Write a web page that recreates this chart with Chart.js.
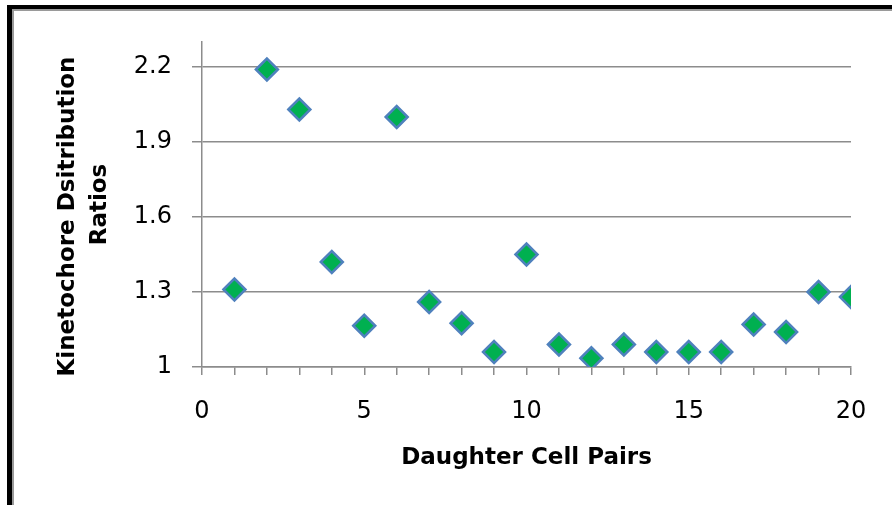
<!DOCTYPE html>
<html>
<head>
<meta charset="utf-8">
<script src="https://cdn.jsdelivr.net/npm/chart.js@4/dist/chart.umd.min.js"></script>
<style>
  html, body { margin: 0; padding: 0; background: #fff; overflow: hidden; }
  #frame { position: absolute; left: 7px; top: 5px; width: 900px; height: 520px;
           border-top: 4px solid #000; border-left: 5px solid #000; }
  #frame div { width: 100%; height: 100%; border-top: 2px solid #9a9a9a; border-left: 2px solid #9a9a9a; }
  #myChart { position: absolute; left: 0; top: 0; }
</style>
</head>
<body>
<div id="frame"><div></div></div>
<canvas id="myChart" width="892" height="505"></canvas>
<script>
// daughter cell pair number
const pairs = [1, 2, 3, 4, 5, 6, 7, 8, 9, 10, 11, 12, 13, 14, 15, 16, 17, 18, 19, 20];
// kinetochore distribution ratio for each pair
const ratios = [1.31, 2.19, 2.03, 1.42, 1.165, 2.0, 1.26, 1.175, 1.06, 1.45,
                1.09, 1.035, 1.09, 1.06, 1.06, 1.06, 1.17, 1.14, 1.30, 1.28];
const xLabels = [0, 5, 10, 15, 20];
const yLabels = [1, 1.3, 1.6, 1.9, 2.2];

const points = pairs.map((p, i) => ({ x: p, y: ratios[i] }));
const gray = '#8c8c8c';
const fam = '"DejaVu Sans", sans-serif';

const data = {
  datasets: [{
    label: 'Ratios',
    data: points,
    pointStyle: 'rectRot',
    pointRadius: 11,
    pointHoverRadius: 11,
    backgroundColor: '#00B050',
    borderColor: '#4F81BD',
    borderWidth: 2.5
  }]
};

const config = {
  type: 'scatter',
  data: data,
  options: {
    responsive: false,
    animation: false,
    layout: { padding: { left: 0, top: 42, right: 41, bottom: 0 } },
    plugins: { legend: { display: false }, tooltip: { enabled: false } },
    scales: {
      x: {
        type: 'linear',
        min: 0, max: 20,
        afterFit: s => { s.height = 138; },
        afterBuildTicks: s => { s.ticks = pairs.concat([0]).sort((a, b) => a - b).map(v => ({ value: v })); },
        ticks: {
          autoSkip: false,
          maxRotation: 0,
          padding: 22,
          color: '#000',
          font: { family: fam, size: 24 },
          callback: v => xLabels.includes(v) ? String(v) : ''
        },
        grid: { drawOnChartArea: false, color: gray, tickLength: 8, tickColor: gray, lineWidth: 1.5 },
        border: { color: gray, width: 1.5 },
        title: {
          display: true, text: 'Daughter Cell Pairs', color: '#000',
          font: { family: fam, size: 23, weight: 'bold' },
          padding: { top: 0, bottom: 33 }
        }
      },
      y: {
        type: 'linear',
        min: 1, max: 2.3,
        afterFit: s => { s.width = 202; },
        afterBuildTicks: s => { s.ticks = yLabels.map(v => ({ value: v })); },
        ticks: {
          padding: 20,
          color: '#000',
          font: { family: fam, size: 24 },
          callback: v => String(Number(v.toFixed(1)))
        },
        grid: { color: gray, tickLength: 10, tickColor: gray, lineWidth: 1.5 },
        border: { color: gray, width: 1.5 },
        title: {
          display: true, text: ['Kinetochore Dsitribution   ', 'Ratios'], color: '#000',
          font: { family: fam, size: 23, weight: 'bold', lineHeight: 1.39 },
          padding: { top: 52, bottom: 0 }
        }
      }
    }
  }
};

const myChart = new Chart(document.getElementById('myChart'), config);
</script>
</body>
</html>
